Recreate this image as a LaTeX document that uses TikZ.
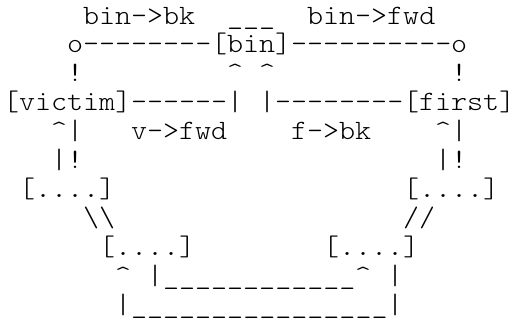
\documentclass[tikz,border=0pt]{standalone}
\usepackage{fontspec}
\setmonofont{lmmonolt10-regular.otf}[FakeStretch=1.091]

\tikzset{ascii/.style={anchor=base west, inner sep=0pt, outer sep=0pt,
    font=\ttfamily\fontsize{28pt}{28.9pt}\selectfont}}
\newcommand{\caret}{\textasciicircum}

\begin{document}
\begin{tikzpicture}[x=16pt, y=-28.9pt]
		% page
		\fill[white] (-3pt,-4.9pt) rectangle ++(513pt,-327pt);
		\useasboundingbox (-3pt,-4.9pt) rectangle ++(513pt,-327pt);
		
		% top row: the bin and its two links
		\node[ascii] (binbk) at (5,1) {bin->bk};
		\node[ascii] (bintop) at (14,1) {\_\_\_};
		\node[ascii] (binfwd) at (19,1) {bin->fwd};
		\node[ascii] (leftend) at (4,2) {o};
		\node[ascii] (leftlink) at (5,2) {--------};
		\node[ascii] (bin) at (13,2) {[bin]};
		\node[ascii] (rightlink) at (18,2) {----------};
		\node[ascii] (rightend) at (28,2) {o};
		
		% marks under the top row
		\foreach \c/\s in {4/!, 14/\caret, 16/\caret, 28/!}
		\node[ascii] at (\c,3) {\s};
		
		% victim and first
		\node[ascii] (victim) at (0,4) {[victim]};
		\node[ascii] (vlink) at (8,4) {------};
		\node[ascii] (vbar) at (14,4) {|};
		\node[ascii] (fbar) at (16,4) {|};
		\node[ascii] (flink) at (17,4) {--------};
		\node[ascii] (first) at (25,4) {[first]\kern-5pt};
		\node[ascii] (vfwd) at (8,5) {v->fwd};
		\node[ascii] (fbk) at (18,5) {f->bk};
		
		% the two side columns
		\foreach \c in {3,27} {
			\node[ascii] at (\c,5) {\caret};
			\node[ascii] at (\c+1,5) {|};
			\node[ascii] at (\c,6) {|};
			\node[ascii] at (\c+1,6) {!};
		}
		
		% the chunks
		\node[ascii] (chunkA) at (1,7) {[....]};
		\node[ascii] (chunkB) at (25,7) {[....]};
		\node[ascii] (slashA) at (5,8) {\textbackslash\textbackslash};
		\node[ascii] (slashB) at (25,8) {//};
		\node[ascii] (chunkC) at (6,9) {[....]};
		\node[ascii] (chunkD) at (20,9) {[....]};
		
		% bottom loop
		\node[ascii] (upC) at (7,10) {\caret};
		\node[ascii] (barC) at (9,10) {|};
		\node[ascii] (lineA) at (10,10) {\_\_\_\_\_\_\_\_\_\_\_\_};
		\node[ascii] (upD) at (22,10) {\caret};
		\node[ascii] (barD) at (24,10) {|};
		\node[ascii] (barE) at (7,11) {|};
		\node[ascii] (lineB) at (8,11) {\_\_\_\_\_\_\_\_\_\_\_\_\_\_\_\_};
		\node[ascii] (barF) at (24,11) {|};
		
		\end{tikzpicture}
\end{document}
